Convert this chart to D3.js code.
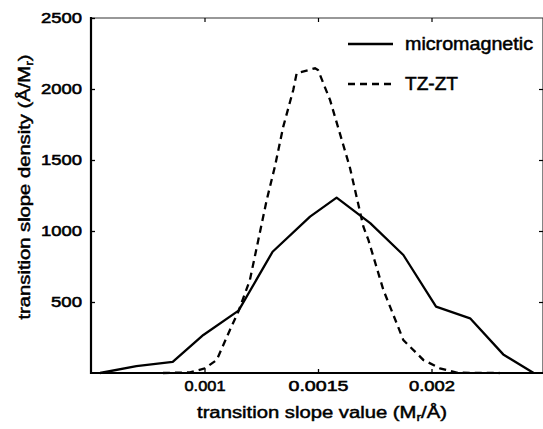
<!DOCTYPE html>
<html>
<head>
<meta charset="utf-8">
<script src="https://cdn.jsdelivr.net/npm/d3@7"></script>
<style>
  html, body { margin: 0; padding: 0; background: #fff; }
  svg { display: block; }
  text { font-family: "Liberation Sans", Arial, Helvetica, sans-serif; fill: #000; }
</style>
</head>
<body>
<svg id="chart" width="543" height="429"></svg>
<script>
// ---- data ----
const microX = [0.00054, 0.00070, 0.00086, 0.000995, 0.00115, 0.00130, 0.001465, 0.001582, 0.00173, 0.001876, 0.00202, 0.00217, 0.002316, 0.00245];
const microY = [0, 49, 78, 268, 439, 854, 1101, 1235, 1056, 831, 467, 385, 131, 0];

const tzX = [0.000817, 0.000936, 0.001002, 0.001054, 0.001112, 0.001149, 0.00120, 0.001274, 0.00131, 0.001347, 0.001391, 0.001406, 0.001487, 0.00150, 0.001553, 0.001641, 0.00170, 0.001722, 0.001788, 0.001876, 0.001964, 0.002037, 0.002111, 0.00230];
const tzY = [0, 4, 33, 92, 303, 432, 655, 1218, 1453, 1735, 1993, 2111, 2146, 2134, 1923, 1444, 1030, 937, 585, 232, 92, 33, 2, 0];

const xTicks = [0.001, 0.0015, 0.002];
const xTickLabels = ["0.001", "0.0015", "0.002"];
const yTicks = [500, 1000, 1500, 2000, 2500];
const yTickLabels = ["500", "1000", "1500", "2000", "2500"];
const seriesNames = ["micromagnetic", "TZ-ZT"];

// ---- layout ----
const svg = d3.select("#chart");
const x = d3.scaleLinear().domain([0.0005, 0.0025]).range([91, 545]);
const y = d3.scaleLinear().domain([0, 2500]).range([373, 18]);
const x0 = x.range()[0], x1 = x.range()[1], y0 = y.range()[0], y1 = y.range()[1];

// frame
svg.append("line").attr("x1", x0).attr("x2", x1).attr("y1", y1).attr("y2", y1)
  .attr("stroke", "#333").attr("stroke-width", 1.2);
svg.append("line").attr("x1", x1 - 2).attr("x2", x1 - 2).attr("y1", y1).attr("y2", y0)
  .attr("stroke", "#333").attr("stroke-width", 1.2);

// bottom axis
const xAxis = d3.axisBottom(x).tickValues(xTicks).tickFormat((d, i) => xTickLabels[i]).tickSizeInner(-4).tickSizeOuter(0).tickPadding(12);
const gx = svg.append("g").attr("transform", `translate(0,${y0})`).call(xAxis);
gx.select(".domain").remove();
gx.selectAll(".tick line").attr("stroke", "#000").attr("stroke-width", 1.3);
gx.selectAll(".tick text").attr("font-size", 15).attr("dy", "0.4em")
  .attr("stroke", "#000").attr("stroke-width", 0.55)
  .attr("textLength", (d, i) => [41, 60, 46][i]).attr("lengthAdjust", "spacingAndGlyphs");

// top ticks
const xAxisTop = d3.axisTop(x).tickValues(xTicks).tickFormat("").tickSizeInner(-4).tickSizeOuter(0);
const gxt = svg.append("g").attr("transform", `translate(0,${y1})`).call(xAxisTop);
gxt.select(".domain").remove();
gxt.selectAll(".tick line").attr("stroke", "#000").attr("stroke-width", 1.2);

// left axis
const yAxis = d3.axisLeft(y).tickValues(yTicks).tickFormat((d, i) => yTickLabels[i]).tickSizeInner(-4).tickSizeOuter(0).tickPadding(9);
const gy = svg.append("g").attr("transform", `translate(${x0},0)`).call(yAxis);
gy.select(".domain").remove();
gy.selectAll(".tick line").attr("stroke", "#000").attr("stroke-width", 1.3);
gy.selectAll(".tick text").attr("font-size", 15)
  .attr("stroke", "#000").attr("stroke-width", 0.55)
  .attr("textLength", d => d < 1000 ? 31 : 41).attr("lengthAdjust", "spacingAndGlyphs");

// right ticks
const yAxisRight = d3.axisRight(y).tickValues([500, 1000, 1500, 2000]).tickFormat("").tickSizeInner(-4).tickSizeOuter(0);
const gyr = svg.append("g").attr("transform", `translate(${x1 - 2},0)`).call(yAxisRight);
gyr.select(".domain").remove();
gyr.selectAll(".tick line").attr("stroke", "#000").attr("stroke-width", 1.2);

// axis lines (thick left and bottom)
svg.append("line").attr("x1", x0).attr("x2", x0).attr("y1", y1 - 1).attr("y2", y0 + 1)
  .attr("stroke", "#000").attr("stroke-width", 2.2);
svg.append("line").attr("x1", x0 - 1).attr("x2", x1).attr("y1", y0).attr("y2", y0)
  .attr("stroke", "#000").attr("stroke-width", 2.2);

// series
const line = d3.line().x(d => x(d[0])).y(d => y(d[1])).curve(d3.curveLinear);
const microData = microX.map((v, i) => [v, microY[i]]);
const tzData = tzX.map((v, i) => [v, tzY[i]]);

svg.append("path").datum(tzData).attr("d", line)
  .attr("fill", "none").attr("stroke", "#000").attr("stroke-width", 2.3)
  .attr("stroke-dasharray", "7,5");
svg.append("path").datum(microData).attr("d", line)
  .attr("fill", "none").attr("stroke", "#000").attr("stroke-width", 2.3)
  .attr("stroke-linejoin", "round");

// legend
const legend = svg.append("g");
legend.append("line").attr("x1", 348).attr("x2", 393).attr("y1", 44).attr("y2", 44)
  .attr("stroke", "#000").attr("stroke-width", 2.3);
legend.append("line").attr("x1", 348).attr("x2", 395).attr("y1", 84).attr("y2", 84)
  .attr("stroke", "#000").attr("stroke-width", 2.3).attr("stroke-dasharray", "7,5");
legend.append("text").attr("x", 405).attr("y", 50).attr("font-size", 18)
  .attr("stroke", "#000").attr("stroke-width", 0.5)
  .attr("textLength", 128).attr("lengthAdjust", "spacingAndGlyphs").text(seriesNames[0]);
legend.append("text").attr("x", 405).attr("y", 90).attr("font-size", 18)
  .attr("stroke", "#000").attr("stroke-width", 0.5)
  .attr("textLength", 53).attr("lengthAdjust", "spacingAndGlyphs").text(seriesNames[1]);

// axis titles
const xt = svg.append("text").attr("x", 322).attr("y", 418).attr("text-anchor", "middle")
  .attr("font-size", 16).attr("stroke", "#000").attr("stroke-width", 0.45)
  .attr("textLength", 250).attr("lengthAdjust", "spacingAndGlyphs");
xt.append("tspan").text("transition slope value (M");
xt.append("tspan").attr("font-size", 11).attr("dy", 3).text("r");
xt.append("tspan").attr("dy", -3).text("/Å)");

const yt = svg.append("text").attr("transform", "translate(30,187) rotate(-90)").attr("text-anchor", "middle")
  .attr("font-size", 16).attr("stroke", "#000").attr("stroke-width", 0.45)
  .attr("textLength", 265).attr("lengthAdjust", "spacingAndGlyphs");
yt.append("tspan").text("transition slope density (Å/M");
yt.append("tspan").attr("font-size", 11).attr("dy", 3).text("r");
yt.append("tspan").attr("dy", -3).text(")");
</script>
</body>
</html>
